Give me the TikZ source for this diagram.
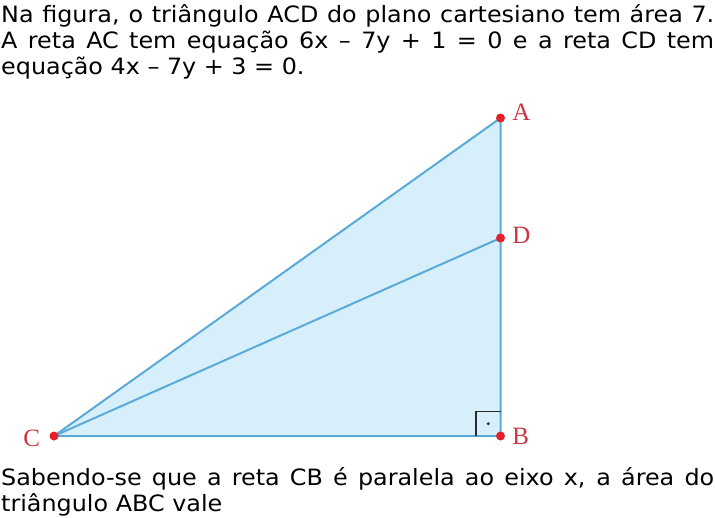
\documentclass[tikz,border=0pt]{standalone}
\usepackage{fontspec}
\setmainfont{DejaVu Sans}[FakeStretch=1.06]
\newfontfamily\lblfont{Liberation Serif}
\usepackage{xcolor}
\usetikzlibrary{positioning,calc}
\definecolor{tfill}{HTML}{D7EEFB}
\definecolor{tline}{HTML}{5AAAD8}
\definecolor{pdot}{HTML}{E3202B}
\definecolor{plbl}{HTML}{CC3540}
\definecolor{rmark}{HTML}{2A2A2A}
\tikzset{
  % statement lines, one node per printed line
  txt/.style  = {anchor=base west, inner sep=0pt, font=\fontsize{22.5}{26}\selectfont},
  side/.style = {tline, line width=2pt, line join=round},
  pt/.style   = {circle, fill=pdot, inner sep=0pt, minimum size=9pt},
  lbl/.style  = {inner sep=0pt, text=plbl, font=\lblfont\fontsize{25}{25}\selectfont},
  rt/.style   = {rmark, line width=1.6pt},
}
\begin{document}
\begin{tikzpicture}[x=1pt,y=-1pt]
\useasboundingbox (0,0) rectangle (715,517);
% statement
\node[txt] (l1) at (1,22.3) {\makebox[713pt][s]{Na figura, o triângulo ACD do plano cartesiano tem área 7.}};
\node[txt] (l2) at (1,48) {\makebox[713pt][s]{A reta AC tem equação 6x – 7y + 1 = 0 e a reta CD tem}};
\node[txt] (l3) at (1,74) {equação 4x – 7y + 3 = 0.};
% vertices
\coordinate (A) at (500.5,118);
\coordinate (D) at (500.5,238);
\coordinate (B) at (500.5,436);
\coordinate (C) at (54,436);
\fill[tfill] (C) -- (A) -- (B) -- cycle;
\draw[side] (C) -- (A) -- (B) -- cycle;
\draw[side] (C) -- (D);
% right angle at B
\draw[rt] ($(B)+(-24.5,0)$) -- ++(0,-24.5) -- ++(24.5,0);
\fill[rmark] ($(B)+(-12.3,-12.3)$) circle (1.6pt);
\foreach \p in {A,D,B,C}
  {\node[pt] (d\p) at (\p) {};}
\node[lbl, right=7pt of dA, yshift=6pt] (nA) {A};
\node[lbl, right=7pt of dD, yshift=3pt] (nD) {D};
\node[lbl, right=7pt of dB] (nB) {B};
\node[lbl, left=9pt of dC, yshift=-2pt] (nC) {C};
% question
\node[txt] (l4) at (1,485) {\makebox[713pt][s]{Sabendo-se que a reta CB é paralela ao eixo x, a área do}};
\node[txt] (l5) at (1,511) {triângulo ABC vale};
\end{tikzpicture}
\end{document}
